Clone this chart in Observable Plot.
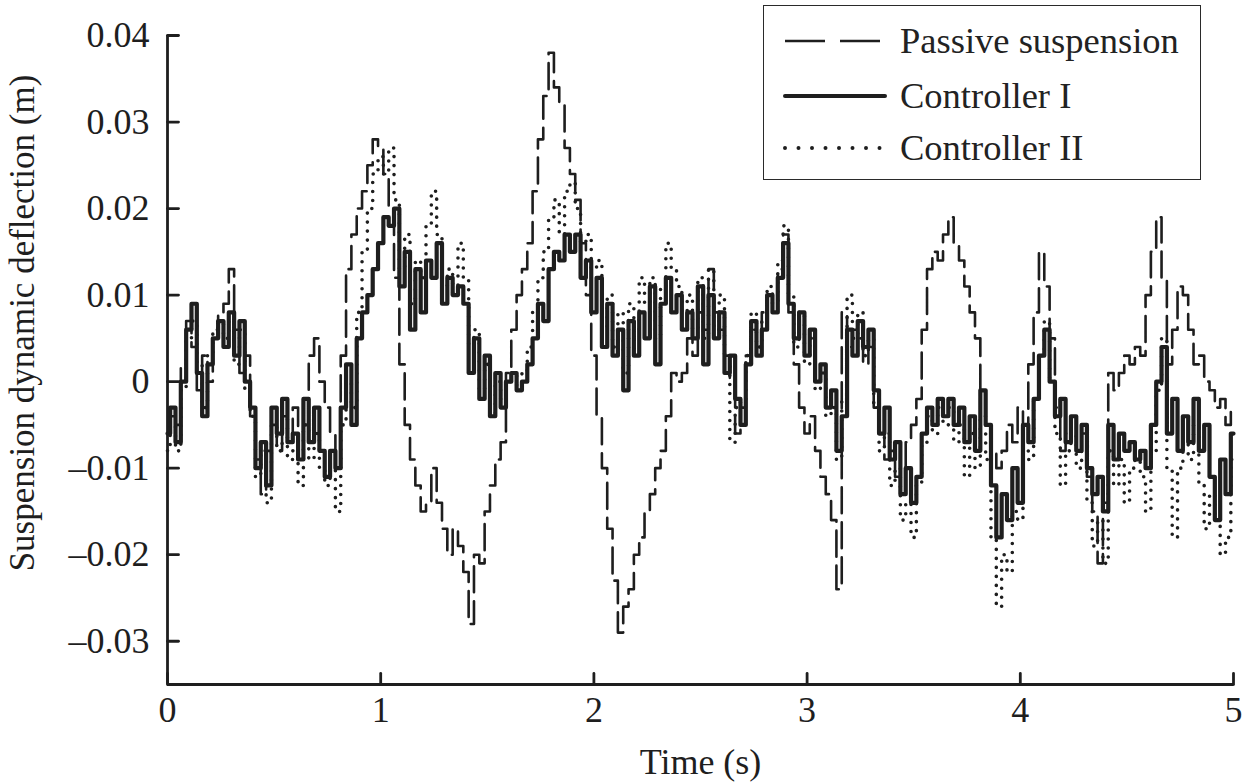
<!DOCTYPE html>
<html>
<head>
<meta charset="utf-8">
<script src="https://cdn.jsdelivr.net/npm/d3@7"></script>
<script src="https://cdn.jsdelivr.net/npm/@observablehq/plot@0.6"></script>
<style>
  html, body { margin: 0; padding: 0; background: #fff; }
  #wrap { position: relative; width: 1246px; height: 783px; font-family: "Liberation Serif", "Times New Roman", serif; }
  #legend { position: absolute; left: 763px; top: 5px; width: 436px; height: 173px; border: 1.6px solid #2a2a2a; background: #fff; }
  .row { position: absolute; left: 0; height: 40px; width: 100%; }
  .row svg { position: absolute; left: 18px; top: 0; }
  .row span { position: absolute; left: 136px; top: 0; line-height: 40px; font-size: 36.5px; color: #222; white-space: nowrap; }
</style>
</head>
<body>
<div id="wrap"></div>
<script>
// ---- data (deflection values, in mm; time step 0.025 s) ----
const sampleStep = 0.025; // s
const passiveMM = [
-6,-4,-5,2,7,4,-1,3,0,5,8,9,13,6,1,3,-4,-9,-13,-8,
-5,-8,-4,-7,-3,-9,-2,3,5,0,-3,-6,-10,3,13,17,20,22,25,28,
27,24,20,12,2,-5,-9,-12,-15,-14,-10,-14,-17,-20,-17,-19,-22,-28,-20,-21,
-15,-12,-9,-7,1,6,10,13,16,22,28,33,38,34,32,27,24,21,16,10,
3,-4,-10,-17,-23,-29,-26,-24,-20,-18,-15,-13,-10,-8,-4,1,0,1,5,3,
8,6,13,8,6,3,0,-6,-3,3,6,4,8,10,9,13,17,8,2,-3,
-6,-4,-8,-11,-13,-16,-24,8,4,6,5,2,4,-3,-6,-9,-8,-11,-10,-7,
-5,-2,6,13,15,14,17,19,16,14,11,8,5,-1,-5,-8,-10,-8,-5,-7,
-3,-5,2,8,15,11,5,-3,-8,-6,-4,-8,-6,-11,-15,-21,-14,1,-1,1,
3,2,4,3,10,15,19,12,2,6,11,10,6,2,3,0,-1,-3,-2,-5,-3
];
const controller1MM = [
-6,-3,-7,0,6,9,1,-4,2,5,7,4,8,3,7,0,-3,-10,-7,-12,
-3,-6,-2,-7,-6,-9,-2,-7,-3,-8,-11,-8,-10,-3,2,-5,5,8,10,13,
16,19,18,20,11,15,6,13,8,14,12,16,9,12,10,11,9,1,5,-2,
3,-4,1,-3,0,1,-1,0,2,5,9,7,13,15,14,17,15,17,12,14,
8,12,4,9,3,6,-1,7,3,8,5,11,2,9,12,8,10,6,8,5,
11,2,10,5,8,1,3,-2,-5,2,7,3,6,10,8,12,16,9,5,8,
3,6,0,2,-3,-1,-8,-4,6,3,7,4,6,-1,-6,-3,-9,-7,-13,-10,
-14,-11,-6,-3,-5,-2,-4,-2,-5,-3,-7,-4,-8,-1,-5,-12,-18,-13,-16,-10,
-14,-5,-7,-2,3,6,0,-4,-2,-7,-4,-8,-5,-10,-13,-11,-15,-5,-9,-6,
-8,-7,-9,-8,-10,-5,0,4,-6,-2,-8,-4,-7,-2,-8,-5,-11,-16,-9,-13,-6
];
const controller2MM = [
-8,-5,-8,-1,5,7,2,-3,3,6,7,5,7,2,6,-1,-4,-11,-8,-14,
-5,-8,-4,-9,-8,-12,-5,-9,-6,-10,-12,-10,-15,-5,0,-3,8,15,20,24,
26,24,27,21,13,17,9,14,12,18,22,17,11,13,10,16,12,4,6,-1,
2,-4,0,-2,0,1,-1,1,4,8,12,15,19,21,17,22,23,20,16,17,
13,14,6,10,4,8,1,9,6,12,9,12,5,11,16,13,11,8,10,6,
12,5,13,6,10,3,-7,-3,-2,3,8,4,7,11,9,14,18,10,4,8,
2,5,-1,1,-4,-3,-9,-2,10,5,8,3,5,-3,-8,-6,-12,-10,-16,-14,
-18,-12,-7,-4,-6,-3,-5,-3,-7,-5,-11,-6,-10,-4,-9,-18,-26,-20,-22,-15,
-16,-8,-9,-2,3,7,0,-6,-12,-8,-6,-10,-8,-14,-19,-16,-21,-8,-12,-9,
-14,-10,-9,-11,-15,-8,-1,5,-10,-18,-10,-7,-9,-5,-12,-17,-13,-16,-20,-18,-9
];
const seriesNames = ["Passive suspension", "Controller I", "Controller II"];
const xTicks = [0, 1, 2, 3, 4, 5];
const yTicks = [-0.03, -0.02, -0.01, 0, 0.01, 0.02, 0.03, 0.04];
const xDomain = [0, 5];
const yDomain = [-0.035, 0.04];
const xLabel = "Time (s)";
const yLabel = "Suspension dynamic deflection (m)";

const toRows = arr => arr.map((mm, i) => ({t: i * sampleStep, v: mm / 1000}));
const passive = toRows(passiveMM);
const c1 = toRows(controller1MM);
const c2 = toRows(controller2MM);

const ink = "#1e1e1e";
const font = "Liberation Serif";
const fmtY = d => d === 0 ? "0" : (d < 0 ? "\u2013" : "") + Math.abs(d).toFixed(2);

const W = 1246, H = 783, mL = 167, mR = 13, mT = 35, mB = 99;
const tickLen = 11;
// a straight tick shape for the vector mark (drawn pointing up before rotation)
const tickShape = {draw(context, l) { context.moveTo(0, 0); context.lineTo(0, -l); }};

const chart = Plot.plot({
  width: W,
  height: H,
  marginLeft: mL,
  marginRight: mR,
  marginTop: mT,
  marginBottom: mB,
  style: {fontFamily: font, fontSize: "36px", color: ink, background: "#fff"},
  x: {domain: xDomain},
  y: {domain: yDomain},
  marks: [
    Plot.line(passive, {x: "t", y: "v", stroke: ink, strokeWidth: 2.6, strokeDasharray: "26,9", curve: "step"}),
    Plot.line(c2, {x: "t", y: "v", stroke: ink, strokeWidth: 3.6, strokeDasharray: "0,9", strokeLinecap: "round", curve: "step"}),
    Plot.line(c1, {x: "t", y: "v", stroke: ink, strokeWidth: 4.2, curve: "step"}),
    // inward ticks
    Plot.vector(xTicks, {x: d => d, y: () => yDomain[0], length: tickLen, rotate: 0, anchor: "start", shape: tickShape, stroke: ink, strokeWidth: 2.8}),
    Plot.vector(yTicks, {x: () => xDomain[0], y: d => d, length: tickLen, rotate: 90, anchor: "start", shape: tickShape, stroke: ink, strokeWidth: 2.8}),
    // spines
    Plot.ruleX([xDomain[0]], {stroke: ink, strokeWidth: 2.8}),
    Plot.ruleY([yDomain[0]], {stroke: ink, strokeWidth: 2.8}),
    Plot.axisX({ticks: xTicks, tickSize: 0, tickPadding: 12, fill: ink, fontSize: 36, label: null, tickFormat: d => String(d)}),
    Plot.axisY({ticks: yTicks, tickSize: 0, tickPadding: 18, fill: ink, fontSize: 36, label: null, tickFormat: fmtY}),
    Plot.text([xLabel], {frameAnchor: "bottom", dy: 78, text: d => d, fontSize: 36, fill: ink, lineAnchor: "middle", textAnchor: "middle"}),
    Plot.text([yLabel], {frameAnchor: "left", dx: -145, dy: -37, rotate: -90, text: d => d, fontSize: 35, fill: ink, lineAnchor: "middle", textAnchor: "middle"})
  ]
});

const wrap = document.getElementById("wrap");
wrap.appendChild(chart);

// legend inside the plot area (top right)
const legend = document.createElement("div");
legend.id = "legend";
const rowsSpec = [
  {name: seriesNames[0], top: 15, dash: "40,15,40,5,1.5,60", width: 2.6, cap: "butt"},
  {name: seriesNames[1], top: 70, dash: null, width: 4, cap: "round"},
  {name: seriesNames[2], top: 122, dash: "0,13.5", width: 4, cap: "round"}
];
for (const r of rowsSpec) {
  const row = document.createElement("div");
  row.className = "row";
  row.style.top = r.top + "px";
  const svg = d3.create("svg").attr("width", 106).attr("height", 40);
  svg.append("line").attr("x1", 3).attr("x2", 103).attr("y1", 20).attr("y2", 20)
    .attr("stroke", ink).attr("stroke-width", r.width).attr("stroke-linecap", r.cap)
    .attr("stroke-dasharray", r.dash);
  row.appendChild(svg.node());
  const span = document.createElement("span");
  span.textContent = r.name;
  row.appendChild(span);
  legend.appendChild(row);
}
wrap.appendChild(legend);
</script>
</body>
</html>
